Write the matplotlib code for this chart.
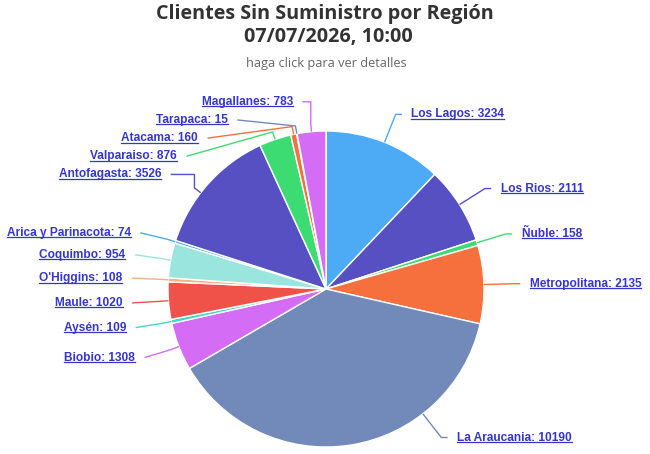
import numpy as np
import matplotlib.pyplot as plt

# datos
regiones = ['Los Lagos', 'Los Rios', 'Ñuble', 'Metropolitana', 'La Araucania',
            'Biobio', 'Aysén', 'Maule', "O'Higgins", 'Coquimbo',
            'Arica y Parinacota', 'Antofagasta', 'Valparaiso', 'Atacama',
            'Tarapaca', 'Magallanes']
clientes = [3234, 2111, 158, 2135, 10190, 1308, 109, 1020, 108, 954,
            74, 3526, 876, 160, 15, 783]

paleta = ['#4daaf5', '#5650c2', '#3ddc72', '#f5703c', '#718ab9',
          '#d46cf5', '#3fd8c6', '#f0524a', '#f7b27a', '#9ae6df']
colores = [paleta[i % len(paleta)] for i in range(len(clientes))]

W, H = 650, 454
cx, cy, r = 326, 289, 158  # pixeles

fig = plt.figure(figsize=(W / 100, H / 100), dpi=100)
ax = fig.add_axes([0, 0, 1, 1])

wedges, _ = ax.pie(clientes, colors=colores, startangle=90, counterclock=False,
                   radius=1, center=(0, 0),
                   wedgeprops=dict(edgecolor='white', linewidth=1))
ax.set_xlim(-cx / r, (W - cx) / r)
ax.set_ylim(-(H - cy) / r, cy / r)
ax.set_aspect('auto')
ax.axis('off')

# posiciones de etiquetas (estilo highcharts)
R = 1.19
paso = 0.115
ymin, ymax = -0.94, 1.21
total = sum(clientes)
acum = np.cumsum([0] + clientes[:-1])
inicios = [a / total * 2 * np.pi for a in acum]
fines = [(a + v) / total * 2 * np.pi for a, v in zip(acum, clientes)]
medios = [(a + v / 2) / total * 2 * np.pi for a, v in zip(acum, clientes)]  # desde arriba, horario

lados = {1: [], -1: []}
for i, ang in enumerate(medios):
    lado = 1 if np.sin(ang) >= 0 else -1
    lados[lado].append([i, R * np.cos(ang)])

pos_y = {}
for lado, items in lados.items():
    items.sort(key=lambda t: -t[1])
    prev = None
    for it in items:
        it[1] = min(it[1], ymax)
        if prev is not None and prev - it[1] < paso:
            it[1] = prev - paso
        prev = it[1]
    nxt = None
    for it in reversed(items):
        it[1] = max(it[1], ymin)
        if nxt is not None and it[1] - nxt < paso:
            it[1] = nxt + paso
        nxt = it[1]
    for i, y in items:
        pos_y[i] = y

color_txt = '#3535d0'
textos = []
for i, ang in enumerate(medios):
    lado = 1 if np.sin(ang) >= 0 else -1
    y = pos_y[i]
    xc = lado * np.sqrt(max(R ** 2 - y ** 2, 0))
    xa = xc + lado * 0.04
    # punto de contacto: hacia la etiqueta si cae dentro del sector
    dir_lbl = np.arctan2(xc, y) % (2 * np.pi)
    toque = dir_lbl if inicios[i] < dir_lbl < fines[i] else ang
    ex, ey = np.sin(toque), np.cos(toque)
    if lado > 0:
        xs, ys = [xa, xc, ex], [y, y, ey]
    else:
        bx, by = 1.05 * ex, 1.05 * ey
        xs, ys = [xa], [y]
        if y > 0.5 and y - by > 0.05:
            xs.append(bx)
            ys.append(y)
        xs += [bx, ex]
        ys += [by, ey]
    ax.plot(xs, ys, color=colores[i], lw=1, solid_capstyle='butt')
    t = ax.text(xc + lado * 0.1, y, f'{regiones[i]}: {clientes[i]}',
                ha='left' if lado > 0 else 'right', va='center',
                fontsize=8.6, fontweight='bold', color=color_txt,
                family=['Liberation Sans', 'DejaVu Sans'])
    textos.append(t)

# subrayado
fig.canvas.draw()
rend = fig.canvas.get_renderer()
for t in textos:
    bb = t.get_window_extent(rend)
    y0 = bb.y0 + 1.5
    fig.add_artist(plt.Line2D([bb.x0 / W, bb.x1 / W], [y0 / H, y0 / H],
                              color=color_txt, lw=0.9, transform=fig.transFigure))

fig.text(325 / W, 1 - 14 / H, 'Clientes Sin Suministro por Región', ha='center',
         va='center', fontsize=14.2, fontweight='bold', color='#333333',
         family='Open Sans')
fig.text(328 / W, 1 - 37 / H, '07/07/2026, 10:00', ha='center',
         va='center', fontsize=14.2, fontweight='bold', color='#333333',
         family='Open Sans')
fig.text(326 / W, 1 - 64 / H, 'haga click para ver detalles', ha='center',
         va='center', fontsize=9.2, color='#666666', family='Open Sans')

fig.savefig('out.png', dpi=100)
